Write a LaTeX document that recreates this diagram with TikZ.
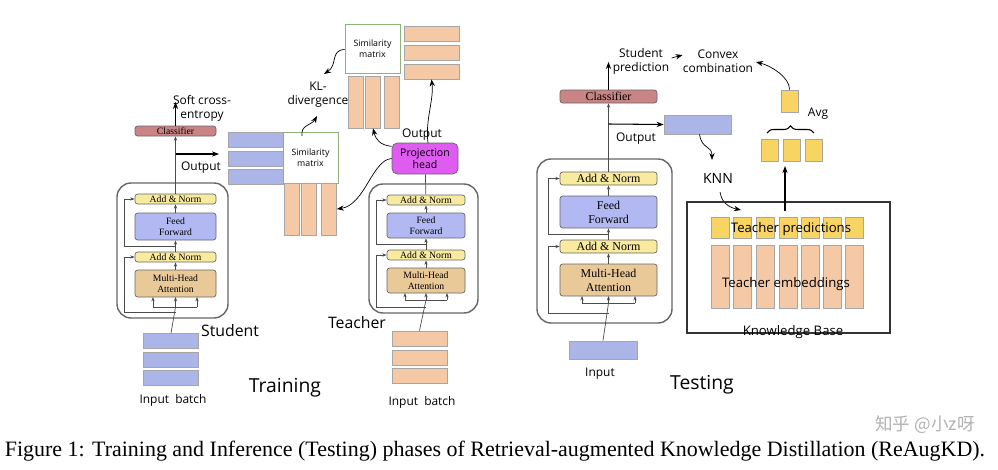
\documentclass[tikz,border=0pt]{standalone}
\usepackage{fontspec}
\setmainfont{Liberation Serif}
\newfontfamily\lab{Open Sans}
\newfontfamily\cjk{Noto Sans CJK SC}
\usetikzlibrary{arrows.meta,decorations.pathreplacing}
\definecolor{embblue}{HTML}{ABB5E8}
\definecolor{embtan}{HTML}{F5C8A6}
\definecolor{predyel}{HTML}{F8D463}
\definecolor{normyel}{HTML}{F8EA9E}
\definecolor{ffblue}{HTML}{B2B8F2}
\definecolor{mhatan}{HTML}{EAC999}
\definecolor{clsred}{HTML}{C98485}
\definecolor{projmag}{HTML}{DE5CF0}
\definecolor{simgreen}{HTML}{8DB27A}
\tikzset{
  cell/.style={draw=gray!70, inner sep=0pt, minimum width=#1},
  emb/.style={cell=55*0.02cm, fill=embblue, minimum height=15*0.02cm},
  row/.style={cell=55*0.02cm, fill=embtan, minimum height=15*0.02cm},
  col/.style={cell=15*0.02cm, fill=embtan, minimum height=52*0.02cm},
  sim/.style={draw=simgreen, fill=white, minimum width=55*0.02cm, minimum height=50*0.02cm, font=\lab\fontsize{5}{6}\selectfont, align=center, inner sep=0pt},
  blk/.style={draw=gray!80!black, rounded corners=1.5pt, inner sep=0pt, align=center, font=\fontsize{5.5}{6}\selectfont},
  lbl/.style={font=\lab\fontsize{6.8}{8}\selectfont, align=center, inner sep=0pt},
  big/.style={font=\lab\fontsize{11}{12}\selectfont, inner sep=0pt},
  enc/.style={draw=gray!80!black, rounded corners=8pt, thick},
  line/.style={draw=gray!60!black, -{Stealth[length=2.5pt]}},
  arr/.style={draw=black, semithick, -{Stealth[length=4pt]}}
}
\begin{document}
\begin{tikzpicture}[x=0.02cm, y=-0.02cm]
\useasboundingbox (0,0) rectangle (998,470);

% ---------- Training: student
\draw[enc] (117,183) rectangle (228,318);
\node[blk, fill=normyel, minimum width=81*0.02cm, minimum height=10*0.02cm] (sAN2) at (175.5,199) {Add \& Norm};
\node[blk, fill=ffblue, minimum width=81*0.02cm, minimum height=27*0.02cm] (sFF) at (175.5,226.5) {Feed\\Forward};
\node[blk, fill=normyel, minimum width=81*0.02cm, minimum height=10*0.02cm] (sAN1) at (175.5,257) {Add \& Norm};
\node[blk, fill=mhatan, minimum width=81*0.02cm, minimum height=27*0.02cm] (sMHA) at (175.5,283.5) {Multi-Head\\Attention};
\node[blk, fill=clsred, minimum width=81*0.02cm, minimum height=10*0.02cm] (sCls) at (175.5,131) {Classifier};
\node[emb] (sIn1) at (171,341) {};
\node[emb] (sIn2) at (171,360) {};
\node[emb] (sIn3) at (171,378) {};
\node[lbl] (sInLbl) at (173,400) {Input\ \ batch};
\node[big, font=\lab\fontsize{9}{10}\selectfont] (sName) at (230,331) {Student};
\node[lbl] (sce) at (202,108) {Soft cross-\\entropy};
\node[lbl] (sOut) at (201,168) {Output};

\draw[gray!60!black] (sIn1.north) -- (175.5,307) coordinate (sfan);
\draw[gray!60!black] (153,307) -- (197,307);
\foreach \x in {153,175.5,197} \draw[line] (\x,307) -- (\x,297);
\draw[line] (175.5,312) -- (124,312) -- (124,257) -- (sAN1.west);
\draw[line] (175.5,246) -- (124,246) -- (124,199) -- (sAN2.west);
\draw[line] (sMHA) -- (sAN1);
\draw[line] (sAN1) -- (sFF);
\draw[line] (sFF) -- (sAN2);
\draw[line] (sAN2) -- (sCls);
\draw[arr] (sCls) -- (175.5,102);
\coordinate (sTap) at (175.5,154);
\coordinate (sTapEnd) at (219,154);
\draw[arr] (sTap) -- (sTapEnd);

% student embeddings and similarity matrix
\node[emb] (sE1) at (255.5,139.5) {};
\node[emb] (sE2) at (255.5,158.5) {};
\node[emb] (sE3) at (255.5,176.5) {};
\node[sim, minimum height=51*0.02cm] (sim1) at (310.5,157.5) {Similarity\\matrix};
\node[col] (c1) at (292,209) {};
\node[col] (c2) at (309,209) {};
\node[col] (c3) at (329,209) {};

% teacher-side similarity matrix
\node[sim, minimum height=49*0.02cm] (sim2) at (372.5,48.5) {Similarity\\matrix};
\node[col] (d1) at (356,102) {};
\node[col] (d2) at (373,102) {};
\node[col] (d3) at (392,102) {};
\node[row] (r1) at (431.5,34) {};
\node[row] (r2) at (431.5,52.5) {};
\node[row] (r3) at (431.5,71.5) {};
\node[lbl] (kl) at (318,95) {KL-\\divergence};
\draw[arr, thin] (302,136) .. controls (300,125) and (312,125) .. (317,116);
\draw[arr, thin] (sim2.west) ++(0,1) .. controls (330,50) and (338,65) .. (324,74);

% ---------- Training: teacher
\draw[enc] (369,184) rectangle (478,313);
\node[blk, fill=normyel, minimum width=78*0.02cm, minimum height=10*0.02cm] (tAN2) at (426,200) {Add \& Norm};
\node[blk, fill=ffblue, minimum width=78*0.02cm, minimum height=25*0.02cm] (tFF) at (426,225.5) {Feed\\Forward};
\node[blk, fill=normyel, minimum width=78*0.02cm, minimum height=10*0.02cm] (tAN1) at (426,255) {Add \& Norm};
\node[blk, fill=mhatan, minimum width=78*0.02cm, minimum height=25*0.02cm] (tMHA) at (426,280.5) {Multi-Head\\Attention};
\node[blk, fill=projmag, draw=black!60, rounded corners=3pt, minimum width=66*0.02cm, minimum height=31*0.02cm, font=\lab\fontsize{6}{7}\selectfont] (proj) at (425,158.5) {Projection\\head};
\node[row] (tIn1) at (419.5,338.5) {};
\node[row] (tIn2) at (419.5,357.5) {};
\node[row] (tIn3) at (419.5,375.5) {};
\node[lbl] (tInLbl) at (422,402) {Input\ \ batch};
\node[big, font=\lab\fontsize{9}{10}\selectfont] (tName) at (357,323) {Teacher};
\node[lbl] (tOut) at (422,135) {Output};

\draw[gray!60!black] (tIn1.north) -- (426,300);
\draw[gray!60!black] (405,300) -- (447,300);
\foreach \x in {405,426,447} \draw[line] (\x,300) -- (\x,293);
\draw[line] (426,307) -- (376,307) -- (376,255) -- (tAN1.west);
\draw[line] (426,244) -- (376,244) -- (376,200) -- (tAN2.west);
\draw[line] (tMHA) -- (tAN1);
\draw[line] (tAN1) -- (tFF);
\draw[line] (tFF) -- (tAN2);
\draw[gray!60!black] (tAN2) -- (proj);
\draw[arr, thin] (proj.160) .. controls (380,145) and (376,140) .. (d2.south);
\draw[arr, thin] (428,143) .. controls (425,120) and (434,100) .. (r3.south);
\draw[arr, thin] (proj.west) .. controls (372,160) and (365,205) .. (c3.east);

\node[big] (train) at (285,388) {Training};

% ---------- Testing
\draw[enc] (537,159) rectangle (672,323);
\node[blk, fill=normyel, minimum width=97*0.02cm, minimum height=13*0.02cm, font=\fontsize{6.8}{7}\selectfont] (kAN2) at (608.5,178.5) {Add \& Norm};
\node[blk, fill=ffblue, minimum width=97*0.02cm, minimum height=32*0.02cm, font=\fontsize{6.8}{8}\selectfont] (kFF) at (608.5,212) {Feed\\Forward};
\node[blk, fill=normyel, minimum width=97*0.02cm, minimum height=13*0.02cm, font=\fontsize{6.8}{7}\selectfont] (kAN1) at (608.5,246.5) {Add \& Norm};
\node[blk, fill=mhatan, minimum width=97*0.02cm, minimum height=32*0.02cm, font=\fontsize{6.8}{8}\selectfont] (kMHA) at (608.5,280) {Multi-Head\\Attention};
\node[blk, fill=clsred, minimum width=97*0.02cm, minimum height=13*0.02cm, font=\fontsize{6.8}{7}\selectfont] (kCls) at (608.5,96.5) {Classifier};
\node[cell=68*0.02cm, fill=embblue, minimum height=18*0.02cm] (kIn) at (603,350) {};
\node[lbl] (kInLbl) at (600,374) {Input};
\node[lbl] (kPred) at (641,61) {Student\\prediction};
\node[lbl] (kConv) at (718,61) {Convex\\combination};
\node[lbl] (kOut) at (636,139) {Output};
\node[cell=67*0.02cm, fill=embblue, minimum height=19*0.02cm] (kQ) at (697.5,124.5) {};
\node[lbl, font=\lab\fontsize{8}{9}\selectfont] (knn) at (718,178) {KNN};

\draw[gray!60!black] (kIn.north) -- (608.5,303);
\draw[gray!60!black] (582,303) -- (635,303);
\foreach \x in {582,608.5,635} \draw[line] (\x,303) -- (\x,296);
\draw[line] (608.5,313) -- (548,313) -- (548,246.5) -- (kAN1.west);
\draw[line] (608.5,234) -- (548,234) -- (548,178.5) -- (kAN2.west);
\draw[line] (kMHA) -- (kAN1);
\draw[line] (kAN1) -- (kFF);
\draw[line] (kFF) -- (kAN2);
\draw[line] (kAN2) -- (kCls);
\draw[arr] (kCls) -- (608.5,62);
\coordinate (kTap) at (608.5,124);
\draw[arr] (kTap) -- (kQ.west);
\draw[arr, thin] (kPred.east) ++(2,-3) -- (kConv.north west |- 0,55);
\draw[arr, thin] (kQ.south) ++(2,0) .. controls (702,150) and (712,145) .. (712,160);
\draw[arr, thin] (720,192) .. controls (722,205) and (732,208) .. (741,210);

% knowledge base
\draw[semithick, draw=black!80] (687,202) rectangle (890,333);
\foreach \x [count=\i] in {720,742,765,788,810,832,854.5} {
  \node[cell=18*0.02cm, fill=predyel, minimum height=21*0.02cm] (p\i) at (\x,227.5) {};
  \node[cell=18*0.02cm, fill=embtan, minimum height=63*0.02cm] (e\i) at (\x,276.5) {};
}
\node[lbl, font=\lab\fontsize{7.5}{9}\selectfont] (tp) at (791,229) {Teacher predictions};
\node[lbl, font=\lab\fontsize{7.5}{9}\selectfont] (te) at (786,284) {Teacher embeddings};
\node[lbl, font=\lab\fontsize{7.5}{9}\selectfont, fill=none] (kb) at (793,332) {Knowledge Base};

\node[cell=17*0.02cm, fill=predyel, minimum height=22*0.02cm] (a1) at (769.5,150) {};
\node[cell=17*0.02cm, fill=predyel, minimum height=22*0.02cm] (a2) at (791.5,150) {};
\node[cell=17*0.02cm, fill=predyel, minimum height=22*0.02cm] (a3) at (813.5,150) {};
\node[cell=17*0.02cm, fill=predyel, minimum height=22*0.02cm] (avg) at (789.5,101) {};
\node[lbl] (avgLbl) at (818,114) {Avg};
\draw[semithick, decorate, decoration={brace, amplitude=4pt}] (767,133) -- (814,133);
\draw[arr] (785,211) -- (785,166);
\draw[arr, thin] (avg.north) .. controls (790,78) and (772,66) .. (756,62);

\node[big] (test) at (702,385) {Testing};

% ---------- caption
\node[inner sep=0pt, font=\fontsize{12.5}{14}\selectfont] (cap) at (495,451) {Figure 1: Training and Inference (Testing) phases of Retrieval-augmented Knowledge Distillation (ReAugKD).};
\node[inner sep=0pt, text=gray!60, font=\cjk\fontsize{10}{11}\selectfont] (wm) at (925,425) {知乎 @小z呀};
\end{tikzpicture}
\end{document}
